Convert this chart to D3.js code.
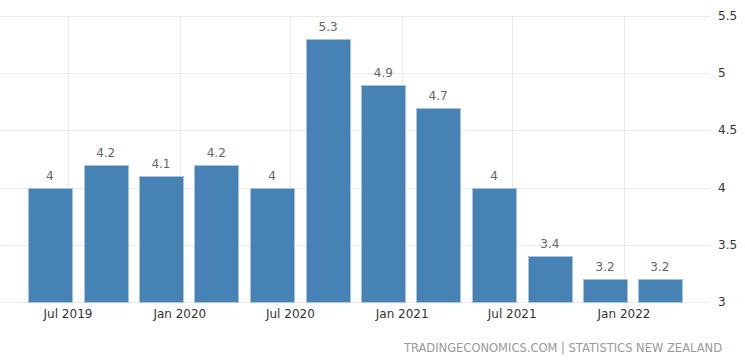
<!DOCTYPE html>
<html>
<head>
<meta charset="utf-8">
<script src="https://cdn.jsdelivr.net/npm/d3@7"></script>
<style>
  body { margin: 0; background: #fff; }
  text { font-family: "DejaVu Sans", sans-serif; }
</style>
</head>
<body>
<div id="chart"></div>
<script>
// quarterly figures, bars sit on the last month of each quarter
const dates = ['2019-06-01', '2019-09-01', '2019-12-01', '2020-03-01', '2020-06-01', '2020-09-01',
  '2020-12-01', '2021-03-01', '2021-06-01', '2021-09-01', '2021-12-01', '2022-03-01'];
const values = [4, 4.2, 4.1, 4.2, 4, 5.3, 4.9, 4.7, 4, 3.4, 3.2, 3.2];
const yTicks = [3, 3.5, 4, 4.5, 5, 5.5];
const xTicks = ['2019-07-01', '2020-01-01', '2020-07-01', '2021-01-01', '2021-07-01', '2022-01-01'];
const source = 'TRADINGECONOMICS.COM | STATISTICS NEW ZEALAND';

const width = 745, height = 362;
const parseTime = d3.timeParse('%Y-%m-%d');
const fmt = d3.timeFormat('%b %Y');

const svg = d3.select('#chart').append('svg')
    .attr('width', width)
    .attr('height', height);

const x = d3.scaleTime()
    .domain([parseTime(xTicks[0]), parseTime(xTicks[xTicks.length - 1])])
    .range([68, 624]);

const y = d3.scaleLinear()
    .domain([3, 5.5])
    .range([302, 16]);

const barW = 44;
const plotRight = 710;

// horizontal grid
svg.append('g')
  .selectAll('line')
  .data(yTicks)
  .join('line')
    .attr('x1', 0)
    .attr('x2', plotRight)
    .attr('y1', d => Math.round(y(d)) + 0.5)
    .attr('y2', d => Math.round(y(d)) + 0.5)
    .attr('stroke', '#ebebeb');

// vertical grid
svg.append('g')
  .selectAll('line')
  .data(xTicks)
  .join('line')
    .attr('x1', d => Math.round(x(parseTime(d))) + 0.5)
    .attr('x2', d => Math.round(x(parseTime(d))) + 0.5)
    .attr('y1', y(5.5))
    .attr('y2', y(3))
    .attr('stroke', '#ebebeb');

// bars
svg.append('g')
  .selectAll('rect')
  .data(values)
  .join('rect')
    .attr('x', (d, i) => Math.round(x(parseTime(dates[i])) - barW / 2) + 0.5)
    .attr('y', d => Math.round(y(d)) + 0.5)
    .attr('width', barW)
    .attr('height', d => Math.round(y(3)) - Math.round(y(d)))
    .attr('fill', '#4682b4')
    .attr('stroke', '#a7c3dd')
    .attr('stroke-width', 1);

// value labels
svg.append('g')
  .selectAll('text')
  .data(values)
  .join('text')
    .attr('x', (d, i) => x(parseTime(dates[i])))
    .attr('y', d => y(d) - 8)
    .attr('text-anchor', 'middle')
    .attr('font-size', '12px')
    .attr('fill', '#666')
    .text(d => d);

// x axis labels
svg.append('g')
  .selectAll('text')
  .data(xTicks)
  .join('text')
    .attr('x', d => x(parseTime(d)))
    .attr('y', 318)
    .attr('text-anchor', 'middle')
    .attr('font-size', '12px')
    .attr('fill', '#333')
    .text(d => fmt(parseTime(d)));

// y axis labels on the right
svg.append('g')
  .selectAll('text')
  .data(yTicks)
  .join('text')
    .attr('x', 718)
    .attr('y', d => y(d) + 4)
    .attr('font-size', '12px')
    .attr('fill', '#333')
    .text(d => d);

svg.append('text')
    .attr('x', 722)
    .attr('y', 352)
    .attr('text-anchor', 'end')
    .attr('font-size', '11.5px')
    .attr('fill', '#999')
    .text(source);
</script>
</body>
</html>
